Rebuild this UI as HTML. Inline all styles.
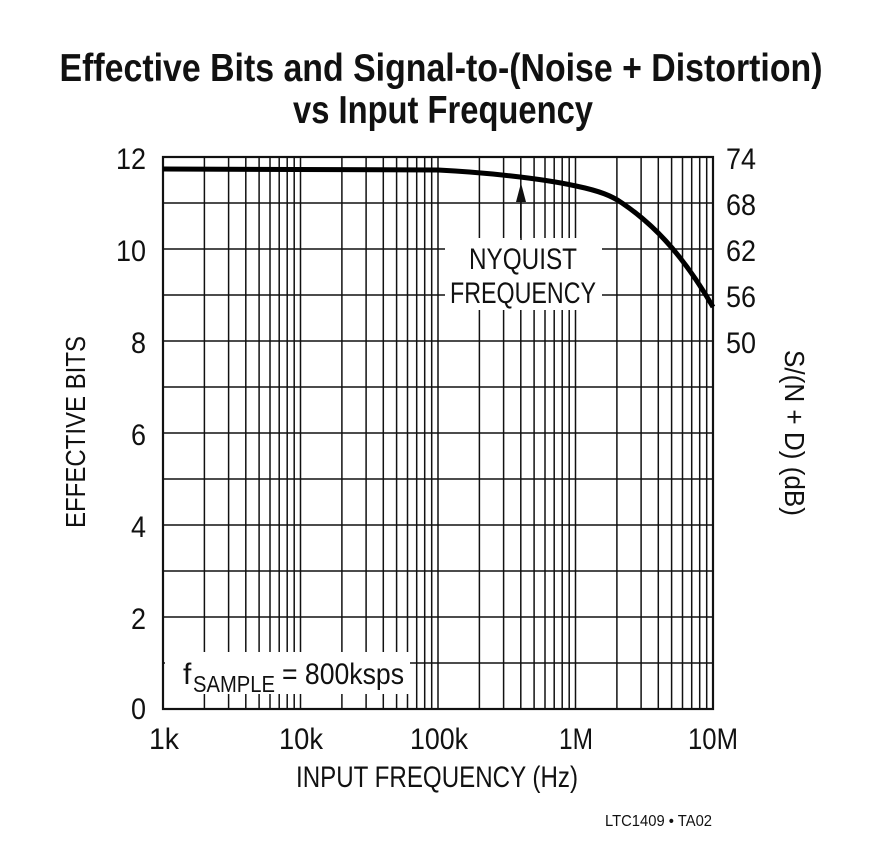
<!DOCTYPE html>
<html><head><meta charset="utf-8"><style>
html,body{margin:0;padding:0;background:#fff;}
svg text{font-family:"Liberation Sans",sans-serif;fill:#111;}
</style></head><body>
<svg width="882" height="847" viewBox="0 0 882 847" xmlns="http://www.w3.org/2000/svg">
<text x="441" y="81" font-size="39" font-weight="bold" text-anchor="middle" textLength="763" lengthAdjust="spacingAndGlyphs">Effective Bits and Signal-to-(Noise + Distortion)</text>
<text x="443" y="123" font-size="39" font-weight="bold" text-anchor="middle" textLength="300" lengthAdjust="spacingAndGlyphs">vs Input Frequency</text>
<g stroke="#111" stroke-width="1.5" fill="none">
<path d="M163,203H713M163,249H713M163,295H713M163,341H713M163,387H713M163,433H713M163,479H713M163,525H713M163,571H713M163,617H713M163,663H713"/>
<path d="M204.4,157V709M228.6,157V709M245.8,157V709M259.1,157V709M270,157V709M279.2,157V709M287.2,157V709M294.2,157V709M300.5,157V709
M341.9,157V709M366.1,157V709M383.3,157V709M396.6,157V709M407.5,157V709M416.7,157V709M424.7,157V709M431.7,157V709M438,157V709
M479.4,157V709M503.6,157V709M520.8,157V709M534.1,157V709M545,157V709M554.2,157V709M562.2,157V709M569.2,157V709M575.5,157V709
M616.9,157V709M641.1,157V709M658.3,157V709M671.6,157V709M682.5,157V709M691.7,157V709M699.7,157V709M706.7,157V709"/>
</g>
<rect x="445" y="238" width="157" height="72" fill="#fff"/>
<rect x="165" y="652" width="245" height="42" fill="#fff"/>
<rect x="163" y="157" width="550" height="552" fill="none" stroke="#111" stroke-width="2.2"/>
<path d="M163,169 L438,170 C480,172 540,178 576,186 C600,191 612,196 622,203 C650,222 680,250 713,307" fill="none" stroke="#000" stroke-width="5"/>
<path d="M521,240V200" stroke="#111" stroke-width="1.5"/>
<path d="M516,202 L521,183 L526,202 Z" fill="#111"/>
<text x="523" y="269" font-size="30" text-anchor="middle" textLength="108" lengthAdjust="spacingAndGlyphs">NYQUIST</text>
<text x="523" y="303" font-size="30" text-anchor="middle" textLength="146" lengthAdjust="spacingAndGlyphs">FREQUENCY</text>
<text x="183" y="684" font-size="30">f</text>
<text x="193" y="692" font-size="23" textLength="82" lengthAdjust="spacingAndGlyphs">SAMPLE</text>
<text x="282" y="684" font-size="30" textLength="122" lengthAdjust="spacingAndGlyphs">= 800ksps</text>
<g font-size="30" text-anchor="end">
<text x="146" y="169" textLength="30" lengthAdjust="spacingAndGlyphs">12</text>
<text x="146" y="261" textLength="30" lengthAdjust="spacingAndGlyphs">10</text>
<text x="146" y="353" textLength="15" lengthAdjust="spacingAndGlyphs">8</text>
<text x="146" y="445" textLength="15" lengthAdjust="spacingAndGlyphs">6</text>
<text x="146" y="537" textLength="15" lengthAdjust="spacingAndGlyphs">4</text>
<text x="146" y="629" textLength="15" lengthAdjust="spacingAndGlyphs">2</text>
<text x="146" y="719" textLength="15" lengthAdjust="spacingAndGlyphs">0</text>
</g>
<g font-size="30">
<text x="726" y="169" textLength="30" lengthAdjust="spacingAndGlyphs">74</text>
<text x="726" y="215" textLength="30" lengthAdjust="spacingAndGlyphs">68</text>
<text x="726" y="261" textLength="30" lengthAdjust="spacingAndGlyphs">62</text>
<text x="726" y="307" textLength="30" lengthAdjust="spacingAndGlyphs">56</text>
<text x="726" y="353" textLength="30" lengthAdjust="spacingAndGlyphs">50</text>
</g>
<g font-size="30" text-anchor="middle">
<text x="164" y="749" textLength="30" lengthAdjust="spacingAndGlyphs">1k</text>
<text x="301" y="749" textLength="44" lengthAdjust="spacingAndGlyphs">10k</text>
<text x="439" y="749" textLength="58" lengthAdjust="spacingAndGlyphs">100k</text>
<text x="576" y="749" textLength="34" lengthAdjust="spacingAndGlyphs">1M</text>
<text x="713" y="749" textLength="50" lengthAdjust="spacingAndGlyphs">10M</text>
<text x="437" y="787" textLength="282" lengthAdjust="spacingAndGlyphs">INPUT FREQUENCY (Hz)</text>
</g>
<text transform="translate(85,432) rotate(-90)" font-size="28" text-anchor="middle" textLength="192" lengthAdjust="spacingAndGlyphs">EFFECTIVE BITS</text>
<text transform="translate(785,433) rotate(90)" font-size="28" text-anchor="middle" textLength="166" lengthAdjust="spacingAndGlyphs">S/(N + D) (dB)</text>
<text x="605" y="826" font-size="16" textLength="107" lengthAdjust="spacingAndGlyphs">LTC1409 • TA02</text>
</svg>
</body></html>
